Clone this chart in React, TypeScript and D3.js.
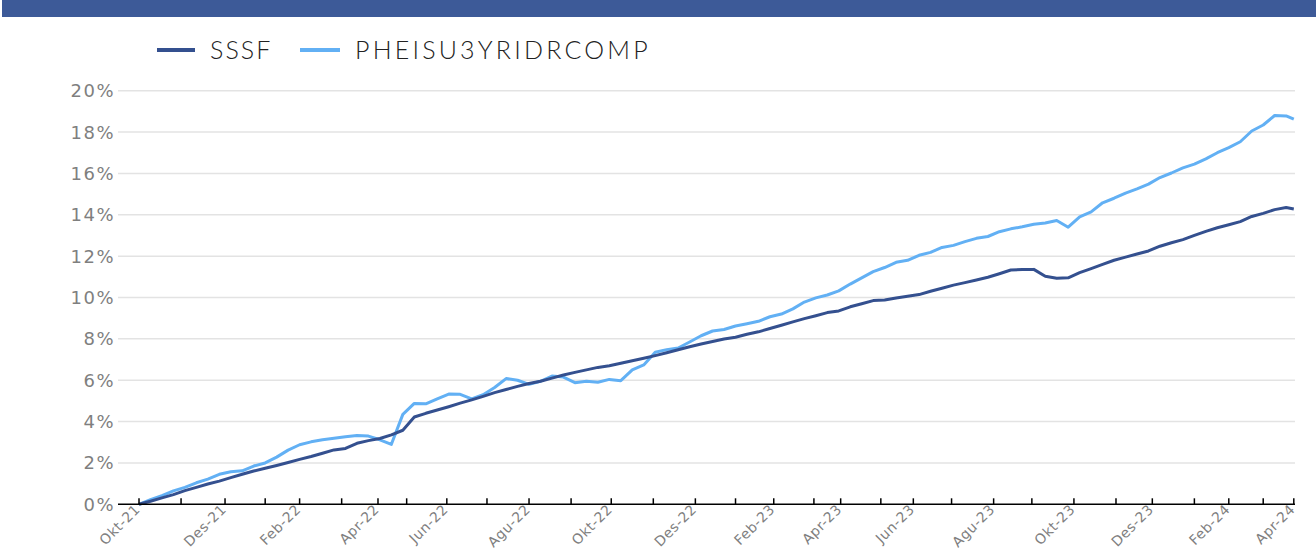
import * as d3 from 'd3';

// month-end labels on the axis (Okt-21 .. Apr-24)
const monthLabels = [
  'Okt-21', 'Nov-21', 'Des-21', 'Jan-22', 'Feb-22', 'Mar-22', 'Apr-22', 'Mei-22',
  'Jun-22', 'Jul-22', 'Agu-22', 'Sep-22', 'Okt-22', 'Nov-22', 'Des-22', 'Jan-23',
  'Feb-23', 'Mar-23', 'Apr-23', 'Mei-23', 'Jun-23', 'Jul-23', 'Agu-23', 'Sep-23',
  'Okt-23', 'Nov-23', 'Des-23', 'Jan-24', 'Feb-24', 'Mar-24', 'Apr-24',
];

// trading days in each month after Okt-21
const monthDays = [
  22, 23, 21, 18, 22, 19, 15, 21, 21, 22, 22, 21, 22, 22, 21,
  20, 21, 14, 21, 17, 20, 22, 20, 22, 22, 19, 22, 18, 18, 16,
];

// cumulative return (%), one reading every 6 trading days
const STEP = 6;

const sssf = [
  0, 0.15, 0.31, 0.47, 0.66, 0.82, 0.98, 1.12, 1.29, 1.45,
  1.61, 1.74, 1.88, 2.02, 2.17, 2.31, 2.47, 2.63, 2.7, 2.95,
  3.08, 3.18, 3.36, 3.58, 4.22, 4.4, 4.56, 4.72, 4.89, 5.05,
  5.22, 5.4, 5.55, 5.7, 5.84, 5.95, 6.1, 6.25, 6.38, 6.5,
  6.62, 6.7, 6.82, 6.94, 7.06, 7.19, 7.33, 7.47, 7.62, 7.75,
  7.87, 7.99, 8.08, 8.22, 8.34, 8.5, 8.66, 8.82, 8.98, 9.12,
  9.27, 9.35, 9.55, 9.7, 9.85, 9.88, 9.98, 10.06, 10.14, 10.3,
  10.45, 10.6, 10.72, 10.85, 10.98, 11.15, 11.33, 11.35, 11.36, 11.03,
  10.93, 10.95, 11.2, 11.4, 11.6, 11.8, 11.95, 12.1, 12.25, 12.48,
  12.65, 12.8, 13.0, 13.2, 13.37, 13.52, 13.67, 13.92, 14.07, 14.25,
  14.35, 14.28,
];

const pheisu = [
  0, 0.22, 0.42, 0.65, 0.82, 1.04, 1.22, 1.45, 1.57, 1.62,
  1.85, 2.0, 2.28, 2.62, 2.88, 3.02, 3.12, 3.19, 3.27, 3.33,
  3.3, 3.12, 2.9, 4.35, 4.88, 4.86, 5.1, 5.33, 5.32, 5.1,
  5.3, 5.65, 6.08, 6.0, 5.8, 5.95, 6.2, 6.15, 5.88, 5.95,
  5.9, 6.04, 5.98, 6.5, 6.74, 7.35, 7.48, 7.56, 7.85, 8.15,
  8.38, 8.45, 8.62, 8.73, 8.85, 9.07, 9.2, 9.45, 9.78, 9.98,
  10.12, 10.32, 10.65, 10.95, 11.25, 11.45, 11.7, 11.8, 12.04, 12.18,
  12.42, 12.52, 12.7, 12.86, 12.95, 13.18, 13.32, 13.42, 13.54, 13.6,
  13.72, 13.4, 13.9, 14.14, 14.58, 14.8, 15.05, 15.25, 15.48, 15.8,
  16.02, 16.27, 16.45, 16.7, 17.0, 17.25, 17.53, 18.05, 18.34, 18.8,
  18.78, 18.62,
];

const yTicks = [0, 2, 4, 6, 8, 10, 12, 14, 16, 18, 20];

const W = 1316;
const H = 550;
const DARK = '#34508f';
const LIGHT = '#62b0f4';
const AXIS_FONT = '"DejaVu Sans", sans-serif';

export default function App() {
  const total = d3.sum(monthDays);
  const tickIdx = [0, ...d3.cumsum(monthDays)];

  const x = d3.scaleLinear().domain([0, total]).range([139, 1293.8]);
  const y = d3.scaleLinear().domain([0, 20]).range([504.3, 90.7]);

  const toPts = (vals: number[]) =>
    vals.map((v, k) => [Math.min(k * STEP, total), v] as [number, number]);

  const line = d3.line<[number, number]>()
    .x(d => x(d[0]))
    .y(d => y(d[1]));

  const gridL = 118;
  const gridR = 1295;

  return (
    <svg
      width={W}
      height={H}
      style={{ position: 'absolute', left: 0, top: 0, background: '#fff' }}
    >
      <rect x={2} y={0} width={W - 2} height={17} fill="#3d5a98" />

      {/* legend */}
      <g fontFamily='Lato, "Open Sans", sans-serif' fontSize={25} fontWeight={300} fill="#222">
        <line x1={157} x2={195} y1={50} y2={50} stroke={DARK} strokeWidth={4} />
        <text x={210} y={59} letterSpacing={2}>SSSF</text>
        <line x1={300} x2={340} y1={50} y2={50} stroke={LIGHT} strokeWidth={4} />
        <text x={355} y={59} letterSpacing={3.2}>PHEISU3YRIDRCOMP</text>
      </g>

      {/* grid + y labels */}
      {yTicks.map(t => (
        <g key={t}>
          {t > 0 && (
            <line x1={gridL} x2={gridR} y1={y(t)} y2={y(t)} stroke="#e3e3e3" strokeWidth={1.5} />
          )}
          <text
            x={115}
            y={y(t) + 6.5}
            textAnchor="end"
            fontFamily={AXIS_FONT}
            fontSize={18}
            letterSpacing={1.5}
            fill="#7f7f7f"
          >
            {t}%
          </text>
        </g>
      ))}

      {/* series */}
      <path d={line(toPts(pheisu)) ?? ''} fill="none" stroke={LIGHT} strokeWidth={3} strokeLinejoin="round" />
      <path d={line(toPts(sssf)) ?? ''} fill="none" stroke={DARK} strokeWidth={3} strokeLinejoin="round" />

      {/* x axis */}
      <line x1={gridL} x2={gridR} y1={y(0)} y2={y(0)} stroke="#000" strokeWidth={1.5} />
      {tickIdx.map((ti, i) => {
        const tx = x(ti);
        return (
          <g key={i}>
            <line x1={tx} x2={tx} y1={y(0)} y2={y(0) - 6} stroke="#000" strokeWidth={1.5} />
            {i % 2 === 0 && (
              <text
                transform={`translate(${tx + 2},${y(0) + 6}) rotate(-45)`}
                textAnchor="end"
                fontFamily={AXIS_FONT}
                fontSize={14}
                letterSpacing={0.5}
                fill="#7f7f7f"
              >
                {monthLabels[i]}
              </text>
            )}
          </g>
        );
      })}
    </svg>
  );
}
